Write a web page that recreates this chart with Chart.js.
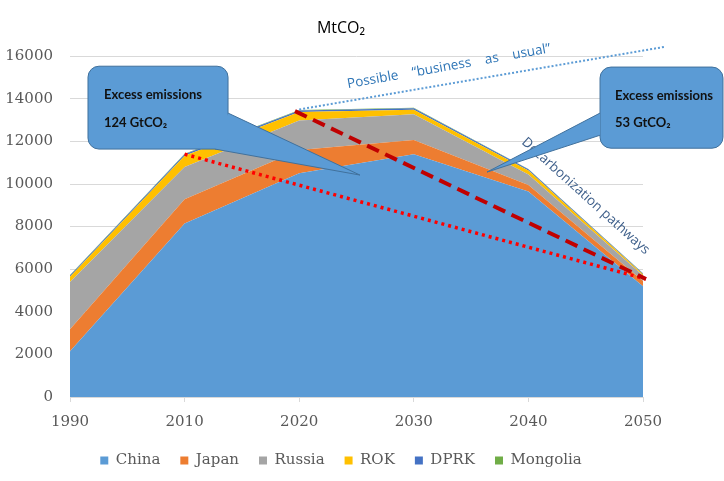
<!DOCTYPE html>
<html>
<head>
<meta charset="utf-8">
<script src="https://cdn.jsdelivr.net/npm/chart.js@4.4.0/dist/chart.umd.min.js"></script>
<style>
html, body { margin: 0; padding: 0; background: #fff; }
#contenedor { width: 724px; height: 481px; }
</style>
</head>
<body>
<div id="contenedor"><canvas id="graficoEmisiones"></canvas></div>
<script>
// Data (MtCO2)
const anios = ["1990", "2010", "2020", "2030", "2040", "2050"];
const china = [2150, 8150, 10500, 11400, 9650, 5200];
const japon = [1030, 1130, 1100, 660, 300, 250];
const rusia = [2220, 1520, 1380, 1210, 500, 250];
const corea = [250, 530, 400, 220, 180, 60];
const dprk = [60, 70, 70, 70, 60, 40];
const mongolia = [15, 20, 20, 20, 20, 10];

// annotation lines, as [category index, MtCO2]
const lineaBAU = [[2, 13500], [5.19, 16440]];
const lineaDescarb1 = [[1.963, 13420], [5.026, 5540]];
const lineaDescarb2 = [[1.0, 11400], [5.026, 5540]];

const series = [
    { label: "China", data: china, color: "#5b9bd5" },
    { label: "Japan", data: japon, color: "#ed7d31" },
    { label: "Russia", data: rusia, color: "#a5a5a5" },
    { label: "ROK", data: corea, color: "#ffc000" },
    { label: "DPRK", data: dprk, color: "#4472c4" },
    { label: "Mongolia", data: mongolia, color: "#70ad47" },
];

// callouts: box [x0, yTop, x1, yBottom], wedge base points and tip
const globos = [
    {
        caja: [0.157, 15530, 1.379, 11640],
        base: [[1.379, 13330], [1.265, 11640]],
        punta: [2.53, 10420],
        texto: [[0.297, 13970, "Excess emissions"], [0.297, 12680, "124 GtCO₂"]],
    },
    {
        caja: [4.625, 15490, 5.698, 11680],
        base: [[4.625, 13330], [4.625, 12290]],
        punta: [3.639, 10560],
        texto: [[4.756, 13940, "Excess emissions"], [4.756, 12680, "53 GtCO₂"]],
    },
];

// let the y tick labels use the left margin too
const ajusteEje = {
    id: "ajusteEje",
    afterLayout(chart) {
        chart.scales.y.left = 0;
    },
};

const anotaciones = {
    id: "anotaciones",
    afterDatasetsDraw(chart) {
        const ctx = chart.ctx;
        const sx = chart.scales.x;
        const sy = chart.scales.y;
        const p = (d) => [sx.getPixelForValue(d[0]), sy.getPixelForValue(d[1])];

        const linea = (pts, color, ancho, dash) => {
            const a = p(pts[0]);
            const b = p(pts[1]);
            ctx.save();
            ctx.strokeStyle = color;
            ctx.lineWidth = ancho;
            ctx.setLineDash(dash);
            ctx.beginPath();
            ctx.moveTo(a[0], a[1]);
            ctx.lineTo(b[0], b[1]);
            ctx.stroke();
            ctx.restore();
        };

        linea(lineaBAU, "#5b9bd5", 2, [2, 2]);
        linea(lineaDescarb2, "#ff0000", 3.5, [3, 4]);
        linea(lineaDescarb1, "#c00000", 4, [13, 7]);

        const textoGirado = (d, txt, ang, color, font) => {
            const a = p(d);
            ctx.save();
            ctx.translate(a[0], a[1]);
            ctx.rotate(ang * Math.PI / 180);
            ctx.font = font;
            ctx.fillStyle = color;
            ctx.textAlign = "left";
            ctx.textBaseline = "alphabetic";
            ctx.fillText(txt, 0, 0);
            ctx.restore();
        };

        textoGirado([2.426, 14500], "Possible    \u201Cbusiness    as    usual\u201D", -10, "#2e75b6", "13.5px 'Open Sans'");
        textoGirado([3.935, 11920], "Decarbonization pathways", 42, "#3e5f8a", "13.5px 'Open Sans'");

        globos.forEach((g) => {
            const c0 = p([g.caja[0], g.caja[1]]);
            const c1 = p([g.caja[2], g.caja[3]]);
            const b0 = p(g.base[0]);
            const b1 = p(g.base[1]);
            const t = p(g.punta);
            const w = c1[0] - c0[0];
            const h = c1[1] - c0[1];

            ctx.save();
            ctx.fillStyle = "#5b9bd5";
            ctx.strokeStyle = "#41719c";
            ctx.lineWidth = 1;

            ctx.beginPath();
            ctx.moveTo(b0[0], b0[1]);
            ctx.lineTo(t[0], t[1]);
            ctx.lineTo(b1[0], b1[1]);
            ctx.closePath();
            ctx.fill();

            ctx.beginPath();
            ctx.roundRect(c0[0], c0[1], w, h, 11);
            ctx.fill();

            ctx.beginPath();
            ctx.moveTo(b0[0], b0[1]);
            ctx.lineTo(t[0], t[1]);
            ctx.lineTo(b1[0], b1[1]);
            ctx.stroke();

            // outline of the box, skipping where the wedge joins it
            ctx.save();
            ctx.beginPath();
            ctx.rect(0, 0, chart.width, chart.height);
            ctx.moveTo(b0[0], b0[1]);
            ctx.lineTo(t[0], t[1]);
            ctx.lineTo(b1[0], b1[1]);
            ctx.closePath();
            ctx.clip("evenodd");
            ctx.beginPath();
            ctx.roundRect(c0[0], c0[1], w, h, 11);
            ctx.stroke();
            ctx.restore();

            ctx.font = "bold 13px Lato";
            ctx.fillStyle = "#111111";
            ctx.textBaseline = "alphabetic";
            g.texto.forEach((tx) => {
                const q = p([tx[0], tx[1]]);
                ctx.fillText(tx[2], q[0], q[1]);
            });
            ctx.restore();
        });
    },
};

const dataGrafico = {
    labels: anios,
    datasets: series.map((s, i) => ({
        label: s.label,
        data: s.data,
        backgroundColor: s.color,
        borderColor: s.color,
        borderWidth: 0,
        pointRadius: 0,
        tension: 0,
        fill: i === 0 ? "origin" : "-1",
    })),
};

const configGrafico = {
    type: "line",
    data: dataGrafico,
    options: {
        responsive: true,
        maintainAspectRatio: false,
        animation: false,
        layout: {
            padding: { left: 39, right: 81, top: 0, bottom: 3 },
        },
        plugins: {
            legend: {
                position: "bottom",
                labels: {
                    boxWidth: 8,
                    boxHeight: 8,
                    padding: 20,
                    color: "#595959",
                    font: { family: "'DejaVu Serif'", size: 15 },
                },
            },
            title: {
                display: true,
                text: "MtCO₂",
                color: "#000000",
                padding: { top: 19, bottom: 18 },
                font: { family: "'Open Sans'", size: 16, weight: "normal" },
            },
            tooltip: { enabled: false },
        },
        scales: {
            x: {
                type: "category",
                offset: false,
                afterFit(scale) {
                    scale.height = 36;
                },
                grid: {
                    drawOnChartArea: false,
                    drawTicks: true,
                    tickLength: 5,
                    color: "#d9d9d9",
                },
                border: { display: true, color: "#d9d9d9" },
                ticks: {
                    padding: 11,
                    color: "#595959",
                    font: { family: "'DejaVu Serif'", size: 15 },
                    maxRotation: 0,
                },
            },
            y: {
                stacked: true,
                min: 0,
                max: 16000,
                afterFit(scale) {
                    scale.width = 31;
                },
                grid: { color: "#d9d9d9", drawTicks: false },
                border: { display: false },
                ticks: {
                    stepSize: 2000,
                    padding: 17,
                    color: "#595959",
                    font: { family: "'DejaVu Serif'", size: 15 },
                    callback: (valor) => String(valor),
                },
            },
        },
    },
    plugins: [ajusteEje, anotaciones],
};

const graficoEmisiones = new Chart(
    document.getElementById("graficoEmisiones"),
    configGrafico
);
</script>
</body>
</html>
